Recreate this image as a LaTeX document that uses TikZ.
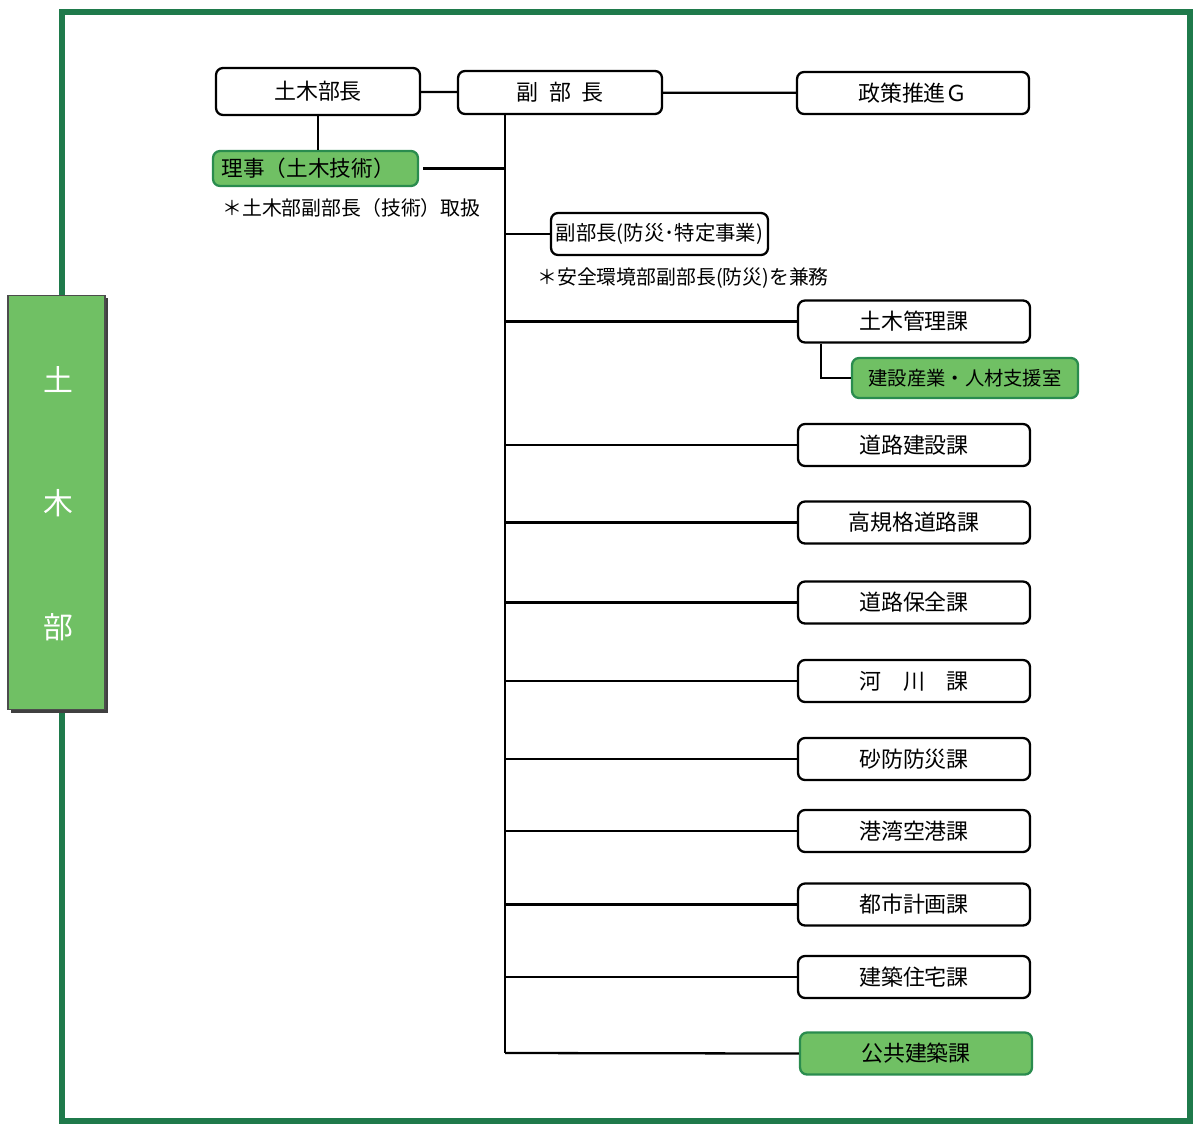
\documentclass[tikz,border=0pt]{standalone}
\usepackage{fontspec}
\setmainfont{Noto Sans CJK JP}
\definecolor{framegreen}{RGB}{31,122,75}
\definecolor{boxgreen}{RGB}{112,192,100}
\definecolor{edgegreen}{RGB}{42,140,78}
\tikzset{
  post/.style={draw, line width=1.3pt, rounded corners=4pt, fill=white, inner sep=0pt,
    font=\fontsize{12.5}{14}\selectfont},
  postg/.style={post, draw=edgegreen, fill=boxgreen},
  ka/.style={post, minimum width=4.64cm, minimum height=0.84cm},
  link/.style={line width=1.3pt},
  note/.style={anchor=west, inner sep=0pt, font=\fontsize{11.3}{13}\selectfont},
}

\begin{document}
\begin{tikzpicture}[x=0.02cm, y=-0.02cm]
    \useasboundingbox (0,0) rectangle (1195,1125);
    \draw [framegreen, line width=3.3pt] (62,12) rectangle (1190,1121);
    \fill [black!75] (11,298) rectangle (108,713);
    \node [draw=black!70, line width=0.6pt, fill=boxgreen, minimum width=1.94cm, minimum height=8.3cm] (dept) at (56.5,502.5) {};
    \node [white, font=\fontsize{17}{19}\selectfont] (deptA) at (58,380) {土};
    \node [white, font=\fontsize{17}{19}\selectfont] (deptB) at (58,503) {木};
    \node [white, font=\fontsize{17}{19}\selectfont] (deptC) at (58,627) {部};

    \node [post, minimum width=4.08cm, minimum height=0.94cm] (bucho) at (318,91.5) {土木部長};
    \node [post, minimum width=4.08cm, minimum height=0.86cm] (fukubu) at (560,92.5) {副\hspace{0.5em}部\hspace{0.5em}長};
    \node [post, minimum width=4.64cm, minimum height=0.84cm] (seisaku) at (913,93) {政策推進Ｇ};
    \node [postg, minimum width=4.1cm, minimum height=0.7cm, text width=3.75cm, align=left,
      font=\fontsize{12.3}{14}\selectfont] (riji) at (315.5,168.5) {理事（土木技術）};
    \node [note] (rijinote) at (222,208) {＊土木部副部長（技術）取扱};
    \node [post, minimum width=4.34cm, minimum height=0.84cm, font=\fontsize{11.6}{14}\selectfont] (bosai) at (659.5,234) {副部長(防災･特定事業)};
    \node [note] (bosainote) at (537,278) {＊安全環境部副部長(防災)を兼務};

    \node [ka] (kanri) at (914,321.5) {土木管理課};
    \node [postg, minimum width=4.52cm, minimum height=0.8cm, font=\fontsize{11}{13}\selectfont] (jinzai) at (965,378) {建設産業・人材支援室};
    \node [ka] (doro) at (914,445) {道路建設課};
    \node [ka] (kokikaku) at (914,522.5) {高規格道路課};
    \node [ka] (hozen) at (914,602.5) {道路保全課};
    \node [ka] (kasen) at (914,681) {河　川　課};
    \node [ka] (sabo) at (914,759) {砂防防災課};
    \node [ka] (kowan) at (914,831) {港湾空港課};
    \node [ka] (toshi) at (914,904.5) {都市計画課};
    \node [ka] (jutaku) at (914,977) {建築住宅課};
    \node [ka, postg] (kokyo) at (916,1053.5) {公共建築課};

    \coordinate (trunk) at (505,1053);
    \draw [link] (bucho) -- (fukubu);
    \draw [link] (fukubu) -- (seisaku);
    \draw [link] (bucho.south) -- (bucho.south |- riji.north);
    \draw [link] (fukubu.south -| trunk) -- (trunk);
    \draw [link] ([xshift=0.08cm]riji.east) -- (riji.east -| trunk);
    \draw [link] (bosai.west) -- (bosai.west -| trunk);
    \draw [link] (kanri.west) -- (kanri.west -| trunk);
    \draw [link] ([xshift=0.48cm]kanri.south west) |- (jinzai.west);
    \draw [link] (doro.west) -- (doro.west -| trunk);
    \draw [link] (kokikaku.west) -- (kokikaku.west -| trunk);
    \draw [link] (hozen.west) -- (hozen.west -| trunk);
    \draw [link] (kasen.west) -- (kasen.west -| trunk);
    \draw [link] (sabo.west) -- (sabo.west -| trunk);
    \draw [link] (kowan.west) -- (kowan.west -| trunk);
    \draw [link] (toshi.west) -- (toshi.west -| trunk);
    \draw [link] (jutaku.west) -- (jutaku.west -| trunk);
    \draw [link] (kokyo.west) -- (trunk);
\end{tikzpicture}
\end{document}
